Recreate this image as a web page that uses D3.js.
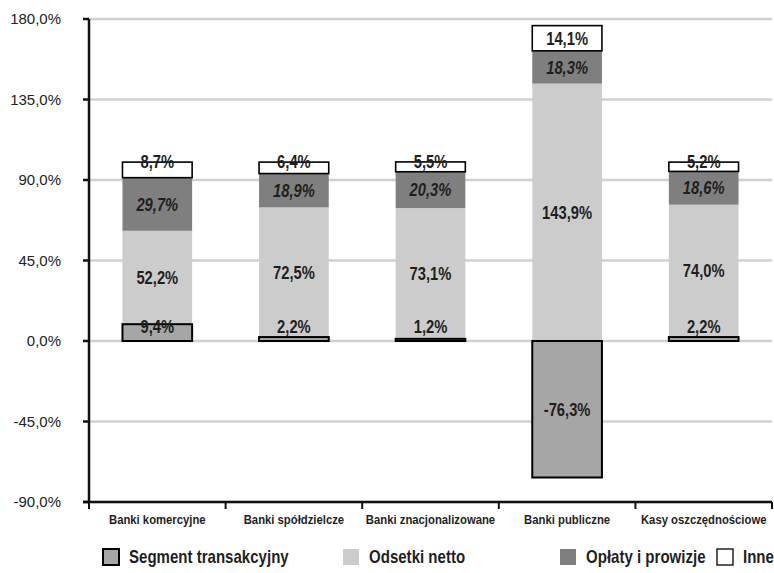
<!DOCTYPE html>
<html>
<head>
<meta charset="utf-8">
<script src="https://cdn.jsdelivr.net/npm/d3@7"></script>
<style>
  html, body { margin: 0; padding: 0; background: #fff; }
  svg { display: block; }
</style>
</head>
<body>
<svg id="chart" width="774" height="573"></svg>
<script>
// Struktura wyniku – udział poszczególnych składników (%)
const categories = ["Banki komercyjne", "Banki spółdzielcze", "Banki znacjonalizowane", "Banki publiczne", "Kasy oszczędnościowe"];
const segmentTransakcyjny = [9.4, 2.2, 1.2, -76.3, 2.2];
const odsetkiNetto = [52.2, 72.5, 73.1, 143.9, 74.0];
const oplatyIProwizje = [29.7, 18.9, 20.3, 18.3, 18.6];
const inne = [8.7, 6.4, 5.5, 14.1, 5.2];
const yTicks = [-90, -45, 0, 45, 90, 135, 180];
const legendNames = ["Segment transakcyjny", "Odsetki netto", "Opłaty i prowizje", "Inne"];

const svg = d3.select("#chart");
const plotLeft = 89, plotRight = 772, plotTop = 19, plotBottom = 502;

const x = d3.scaleBand().domain(categories).range([plotLeft, plotRight]).paddingInner(0.49).paddingOuter(0.245);
const y = d3.scaleLinear().domain([-90, 180]).range([plotBottom, plotTop]);

// polski zapis liczb: przecinek dziesiętny, zwykły minus
const pl = d3.formatLocale({ decimal: ",", thousands: " ", grouping: [3], currency: ["", " zł"], minus: "-" });
const fmt1 = pl.format(".1f");
const fmt = v => fmt1(v) + "%";

const sans = "'Liberation Sans', Arial, sans-serif";

// tekst zwężony (krój typu „narrow”) – skalowanie w poziomie
function narrowText(parent, tx, ty, str, opts) {
  const o = Object.assign({ size: 18, sx: 0.82, anchor: "middle", italic: false, weight: "bold", fill: "#1f1f1f" }, opts || {});
  return parent.append("text")
    .attr("transform", `translate(${tx},${ty}) scale(${o.sx},1)`)
    .attr("text-anchor", o.anchor)
    .attr("dy", o.dy || null)
    .attr("font-family", sans).attr("font-weight", o.weight)
    .attr("font-style", o.italic ? "italic" : "normal")
    .attr("font-size", o.size).attr("fill", o.fill)
    .text(str);
}

// siatka pozioma
svg.append("g").selectAll("line").data(yTicks).join("line")
  .attr("x1", plotLeft).attr("x2", plotRight)
  .attr("y1", d => y(d)).attr("y2", d => y(d))
  .attr("stroke", "#d0d0d0").attr("stroke-width", 2.5);

// zestawienie segmentów słupków
const rows = categories.map((c, i) => {
  const t = segmentTransakcyjny[i];
  const b0 = Math.max(0, t);
  const o1 = b0 + odsetkiNetto[i];
  const p1 = o1 + oplatyIProwizje[i];
  const n1 = p1 + inne[i];
  return { c, t, b0, o1, p1, n1, i };
});

const g = svg.append("g");
const bw = x.bandwidth();

// Odsetki netto
g.append("g").selectAll("rect").data(rows).join("rect")
  .attr("x", d => x(d.c)).attr("width", bw)
  .attr("y", d => y(d.o1)).attr("height", d => y(d.b0) - y(d.o1))
  .attr("fill", "#cccccc");

// Opłaty i prowizje
g.append("g").selectAll("rect").data(rows).join("rect")
  .attr("x", d => x(d.c)).attr("width", bw)
  .attr("y", d => y(d.p1)).attr("height", d => y(d.o1) - y(d.p1))
  .attr("fill", "#7f7f7f");

// Inne
g.append("g").selectAll("rect").data(rows).join("rect")
  .attr("x", d => x(d.c)).attr("width", bw)
  .attr("y", d => y(d.n1)).attr("height", d => y(d.p1) - y(d.n1))
  .attr("fill", "#ffffff").attr("stroke", "#000").attr("stroke-width", 1.6);

// Segment transakcyjny
g.append("g").selectAll("rect").data(rows).join("rect")
  .attr("x", d => x(d.c)).attr("width", bw)
  .attr("y", d => y(Math.max(0, d.t))).attr("height", d => Math.abs(y(d.t) - y(0)))
  .attr("fill", "#a6a6a6").attr("stroke", "#000").attr("stroke-width", 2);

// etykiety wartości
const lab = svg.append("g");
rows.forEach(d => {
  const cx = x(d.c) + bw / 2;
  const yT = d.t < 0 ? y(d.t / 2) : Math.min(y(d.t / 2), y(0) - 14);
  narrowText(lab, cx, yT, fmt(d.t), { dy: "0.35em" });
  narrowText(lab, cx, y((d.b0 + d.o1) / 2), fmt(odsetkiNetto[d.i]), { dy: "0.35em" });
  narrowText(lab, cx, y((d.o1 + d.p1) / 2), fmt(oplatyIProwizje[d.i]), { dy: "0.35em", italic: true });
  const yN = (y(d.p1) - y(d.n1) < 20) ? y(d.n1) : y((d.p1 + d.n1) / 2);
  narrowText(lab, cx, yN, fmt(inne[d.i]), { dy: "0.35em" });
});

// oś Y
const ya = svg.append("g");
ya.append("line").attr("x1", plotLeft).attr("x2", plotLeft).attr("y1", plotTop).attr("y2", plotBottom)
  .attr("stroke", "#111").attr("stroke-width", 2.5);
ya.append("g").selectAll("line").data(yTicks).join("line")
  .attr("x1", plotLeft - 6).attr("x2", plotLeft).attr("y1", d => y(d)).attr("y2", d => y(d))
  .attr("stroke", "#111").attr("stroke-width", 2.5);
ya.append("g").selectAll("text").data(yTicks).join("text")
  .attr("x", 61).attr("y", d => y(d)).attr("dy", "0.35em")
  .attr("text-anchor", "end").attr("font-family", sans).attr("font-size", 15)
  .attr("fill", "#222").text(d => fmt(d));

// oś X
const xa = svg.append("g");
xa.append("line").attr("x1", plotLeft - 6).attr("x2", plotRight).attr("y1", plotBottom).attr("y2", plotBottom)
  .attr("stroke", "#111").attr("stroke-width", 2.5);
const bounds = d3.range(categories.length + 1).map(k => plotLeft + k * x.step());
xa.append("g").selectAll("line").data(bounds).join("line")
  .attr("x1", d => d).attr("x2", d => d).attr("y1", plotBottom).attr("y2", plotBottom + 7)
  .attr("stroke", "#111").attr("stroke-width", 2);
categories.forEach(c => {
  narrowText(xa, x(c) + bw / 2, 524, c, { size: 13.3, sx: 0.85 });
});

// legenda
const legX = [103, 343, 560, 717];
const legFill = ["#a6a6a6", "#cccccc", "#7f7f7f", "#ffffff"];
const legStroke = ["#000", "none", "none", "#000"];
const leg = svg.append("g");
legendNames.forEach((name, k) => {
  leg.append("rect").attr("x", legX[k]).attr("y", 549).attr("width", 16).attr("height", 16)
    .attr("fill", legFill[k]).attr("stroke", legStroke[k]).attr("stroke-width", k === 0 ? 2 : 1.3);
  narrowText(leg, legX[k] + 26, 563, name, { size: 17.5, sx: 0.86, anchor: "start" });
});
</script>
</body>
</html>
